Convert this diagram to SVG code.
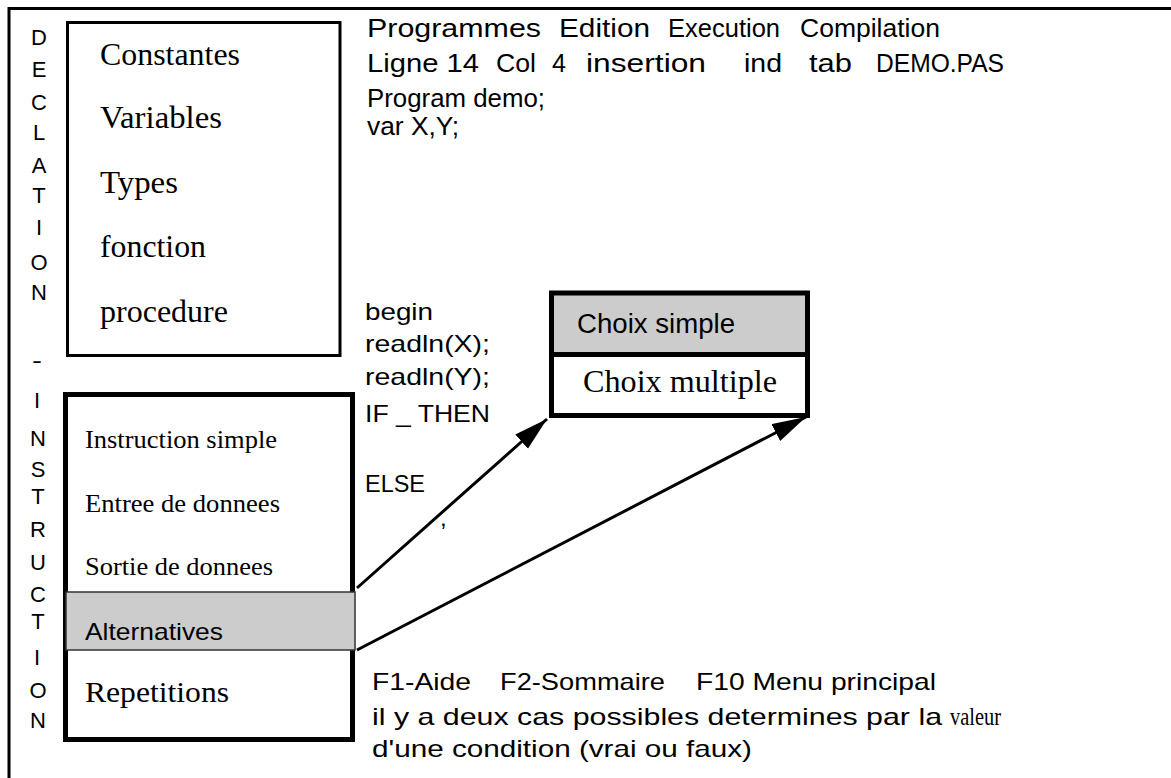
<svg xmlns="http://www.w3.org/2000/svg" width="1171" height="778" viewBox="0 0 1171 778">
<style>
.sans{font-family:"Liberation Sans",Arial,sans-serif;fill:#000}
.serif{font-family:"Liberation Serif","Times New Roman",serif;fill:#000}
.box{fill:#fff;stroke:#000}
.conn{stroke:#000;stroke-width:3;fill:none}
.vl{font-size:22px;text-anchor:middle}
</style>
<defs>
<marker id="ah" markerUnits="userSpaceOnUse" markerWidth="36" markerHeight="20" refX="34" refY="9.5" orient="auto">
<path d="M0,0 L34,9.5 L0,19 Z" fill="#000"/>
</marker>
</defs>
<rect width="1171" height="778" fill="#fff"/>
<g id="frame">
<path d="M9,778 V8.5 H1171" fill="none" stroke="#000" stroke-width="3"/>
</g>
<g id="declaration-label" class="sans vl">
<text x="39" y="45">D</text>
<text x="39" y="77">E</text>
<text x="39" y="110">C</text>
<text x="39" y="140">L</text>
<text x="39" y="173">A</text>
<text x="39" y="203">T</text>
<text x="39" y="235">I</text>
<text x="39" y="270">O</text>
<text x="39" y="300">N</text>
<text x="37" y="368" textLength="10" lengthAdjust="spacingAndGlyphs">-</text>
</g>
<g id="instruction-label" class="sans vl">
<text x="37" y="408">I</text>
<text x="38" y="446">N</text>
<text x="38" y="477">S</text>
<text x="38" y="504">T</text>
<text x="38" y="537">R</text>
<text x="38" y="570">U</text>
<text x="38" y="602">C</text>
<text x="38" y="629">T</text>
<text x="37" y="665">I</text>
<text x="38" y="698">O</text>
<text x="38" y="728">N</text>
</g>
<g id="declaration-box">
<rect class="box" x="67.5" y="22.5" width="272.5" height="333" stroke-width="3"/>
<g class="serif" font-size="31">
<text x="100" y="65" textLength="140" lengthAdjust="spacingAndGlyphs">Constantes</text>
<text x="100" y="128" textLength="122" lengthAdjust="spacingAndGlyphs">Variables</text>
<text x="100" y="193" textLength="78" lengthAdjust="spacingAndGlyphs">Types</text>
<text x="100" y="257" textLength="106" lengthAdjust="spacingAndGlyphs">fonction</text>
<text x="100" y="322" textLength="128" lengthAdjust="spacingAndGlyphs">procedure</text>
</g>
</g>
<g id="instruction-box">
<rect class="box" x="65.5" y="394.5" width="287" height="345" stroke-width="5"/>
<g class="serif" font-size="26">
<text x="85" y="448" textLength="192" lengthAdjust="spacingAndGlyphs">Instruction simple</text>
<text x="85" y="512" textLength="195" lengthAdjust="spacingAndGlyphs">Entree de donnees</text>
<text x="85" y="575" textLength="188" lengthAdjust="spacingAndGlyphs">Sortie de donnees</text>
</g>
<g id="alternatives">
<rect x="66" y="592" width="289" height="58" fill="#cccccc" stroke="#333" stroke-width="1.5"/>
<text class="sans" x="85" y="640" font-size="24" textLength="138" lengthAdjust="spacingAndGlyphs">Alternatives</text>
</g>
<text class="serif" x="85" y="702" font-size="30" textLength="144" lengthAdjust="spacingAndGlyphs">Repetitions</text>
</g>
<g id="choix-box">
<rect x="551.5" y="293" width="256" height="61.5" fill="#cccccc"/>
<rect x="551.5" y="293" width="256" height="122.5" fill="none" stroke="#000" stroke-width="5"/>
<line x1="551.5" y1="354.5" x2="807.5" y2="354.5" stroke="#000" stroke-width="5"/>
<text class="sans" x="577" y="333" font-size="27" textLength="158" lengthAdjust="spacingAndGlyphs">Choix simple</text>
<text class="serif" x="583" y="392" font-size="31" textLength="194" lengthAdjust="spacingAndGlyphs">Choix multiple</text>
</g>
<g id="editor-text" class="sans">
<g font-size="26">
<text x="367" y="37" textLength="174" lengthAdjust="spacingAndGlyphs">Programmes</text>
<text x="559" y="37" textLength="91" lengthAdjust="spacingAndGlyphs">Edition</text>
<text x="668" y="37" textLength="112" lengthAdjust="spacingAndGlyphs">Execution</text>
<text x="800" y="37" textLength="140" lengthAdjust="spacingAndGlyphs">Compilation</text>
<text x="367" y="72" textLength="112" lengthAdjust="spacingAndGlyphs">Ligne 14</text>
<text x="496" y="72" textLength="40" lengthAdjust="spacingAndGlyphs">Col</text>
<text x="552" y="72" textLength="14" lengthAdjust="spacingAndGlyphs">4</text>
<text x="586" y="72" textLength="120" lengthAdjust="spacingAndGlyphs">insertion</text>
<text x="744" y="72" textLength="38" lengthAdjust="spacingAndGlyphs">ind</text>
<text x="809" y="72" textLength="43" lengthAdjust="spacingAndGlyphs">tab</text>
<text x="876" y="72" textLength="128" lengthAdjust="spacingAndGlyphs">DEMO.PAS</text>
<text x="367" y="107" textLength="178" lengthAdjust="spacingAndGlyphs">Program demo;</text>
<text x="367" y="135" textLength="92" lengthAdjust="spacingAndGlyphs">var X,Y;</text>
</g>
<g font-size="24">
<text x="365" y="320" textLength="68" lengthAdjust="spacingAndGlyphs">begin</text>
<text x="365" y="352" textLength="125" lengthAdjust="spacingAndGlyphs">readln(X);</text>
<text x="365" y="385" textLength="125" lengthAdjust="spacingAndGlyphs">readln(Y);</text>
<text x="365" y="422" textLength="125" lengthAdjust="spacingAndGlyphs">IF _ THEN</text>
<text x="365" y="492" textLength="60" lengthAdjust="spacingAndGlyphs">ELSE</text>
<text x="440" y="526">,</text>
</g>
<g font-size="24">
<text x="372" y="690" textLength="99" lengthAdjust="spacingAndGlyphs">F1-Aide</text>
<text x="500" y="690" textLength="165" lengthAdjust="spacingAndGlyphs">F2-Sommaire</text>
<text x="696" y="690" textLength="240" lengthAdjust="spacingAndGlyphs">F10 Menu principal</text>
<text x="372" y="725" textLength="570" lengthAdjust="spacingAndGlyphs">il y a deux cas possibles determines par la</text>
<text class="serif" x="950" y="725" font-size="26" textLength="51" lengthAdjust="spacingAndGlyphs">valeur</text>
<text x="372" y="757" textLength="380" lengthAdjust="spacingAndGlyphs">d'une condition (vrai ou faux)</text>
</g>
</g>
<g id="connectors">
<line class="conn" x1="357" y1="588" x2="547" y2="419" marker-end="url(#ah)"/>
<line class="conn" x1="357" y1="650" x2="806" y2="417" marker-end="url(#ah)"/>
</g>
</svg>
